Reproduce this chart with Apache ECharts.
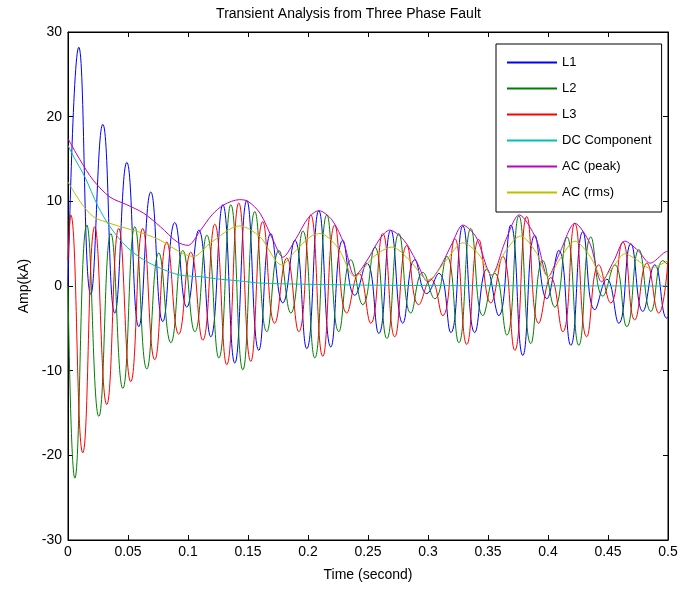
<!DOCTYPE html>
<html lang="en">
<head>
    <meta charset="UTF-8">
    <title>Transient Analysis from Three Phase Fault</title>
    <script type="text/javascript" src="https://cdn.jsdelivr.net/npm/echarts@6/dist/echarts.min.js"></script>
    <style>
        html, body { margin: 0; padding: 0; background: #fff; }
    </style>
</head>
<body>
<div id="main" style="width: 697px;height:591px;"></div>
<script>
    // values: [time (s), current (kA)], peaks and troughs of each phase
    var l1 = [[0,0],[0.009,28.2],[0.019,-1.0],[0.029,19.1],[0.039,-3.2],[0.049,14.6],[0.059,-4.8],[0.069,11.1],[0.079,-4.2],[0.089,7.5],
        [0.099,-2.5],[0.109,6.6],[0.119,-6.0],[0.129,9.6],[0.139,-9.1],[0.149,10.1],[0.159,-7.6],[0.169,6.2],[0.179,-2.0],[0.189,5.4],
        [0.199,-7.4],[0.209,8.9],[0.219,-7.2],[0.229,5.4],[0.239,-1.1],[0.249,2.7],[0.259,-5.6],[0.269,6.6],[0.279,-4.4],[0.289,3.1],
        [0.299,-0.9],[0.309,1.5],[0.319,-5.5],[0.329,7.1],[0.339,-5.5],[0.349,2.0],[0.359,-3.5],[0.369,7.2],[0.379,-8.2],[0.389,6.0],
        [0.399,-1.5],[0.409,4.2],[0.419,-7.0],[0.429,6.4],[0.439,-2.8],[0.449,0.8],[0.459,-4.4],[0.469,5.0],[0.479,-3.0],[0.489,2.5],
        [0.499,-3.8],[0.5,-3.7]];

    var l2 = [[0,0],[0.0057,-22.7],[0.0157,7.2],[0.0257,-15.4],[0.0357,6.2],[0.0457,-12.1],[0.0557,7.0],[0.0657,-9.8],[0.0757,3.9],[0.0857,-6.7],
        [0.0957,4.2],[0.1057,-5.4],[0.1157,6.0],[0.1257,-8.5],[0.1357,9.6],[0.1457,-9.9],[0.1557,8.8],[0.1657,-5.4],[0.1757,4.2],[0.1857,-3.2],
        [0.1957,6.5],[0.2057,-8.5],[0.2157,8.4],[0.2257,-5.4],[0.2357,3.1],[0.2457,-2.2],[0.2557,4.6],[0.2657,-6.2],[0.2757,6.2],[0.2857,-3.2],
        [0.2957,1.6],[0.3057,-1.5],[0.3157,3.5],[0.3257,-6.7],[0.3357,6.8],[0.3457,-3.5],[0.3557,1.5],[0.3657,-5.8],[0.3757,8.3],[0.3857,-6.8],
        [0.3957,3.0],[0.4057,-2.5],[0.4157,5.8],[0.4257,-7.0],[0.4357,5.8],[0.4457,-1.2],[0.4557,2.5],[0.4657,-4.8],[0.4757,4.3],[0.4857,-3.0],
        [0.4957,3.0],[0.5,2.5]];

    var l3 = [[0,3.0],[0.0023,8.4],[0.0123,-19.7],[0.0223,7.0],[0.0323,-14.0],[0.0423,6.8],[0.0523,-11.3],[0.0623,6.8],[0.0723,-8.7],[0.0823,5.2],
        [0.0923,-5.7],[0.1023,4.0],[0.1123,-6.4],[0.1223,7.3],[0.1323,-9.3],[0.1423,9.8],[0.1523,-8.9],[0.1623,7.6],[0.1723,-4.4],[0.1823,3.3],
        [0.1923,-5.4],[0.2023,8.4],[0.2123,-8.3],[0.2223,7.2],[0.2323,-3.2],[0.2423,1.5],[0.2523,-4.4],[0.2623,6.2],[0.2723,-6.0],[0.2823,4.8],
        [0.2923,-2.2],[0.3023,0.8],[0.3123,-3.5],[0.3223,5.6],[0.3323,-6.9],[0.3423,5.5],[0.3523,-2.0],[0.3623,3.5],[0.3723,-7.6],[0.3823,8.2],
        [0.3923,-4.4],[0.4023,1.0],[0.4123,-5.4],[0.4223,7.4],[0.4323,-6.0],[0.4423,2.5],[0.4523,-2.0],[0.4623,5.2],[0.4723,-4.0],[0.4823,2.7],
        [0.4923,-3.2],[0.5,3.0]];

    var dcComp = [[0,16.6],[0.005,15.2],[0.014,12.9],[0.025,9.4],[0.035,7.0],[0.049,4.6],[0.063,3.1],[0.077,2.1],[0.093,1.3],
        [0.11,1.1],[0.127,0.8],[0.143,0.6],[0.16,0.35],[0.2,0.2],[0.25,0.1],[0.3,0.05],[0.5,0]];

    var acPeak = [[0,17.4],[0.01,14.9],[0.021,12.5],[0.035,10.5],[0.049,9.6],[0.063,8.6],[0.077,7.0],[0.091,5.2],[0.1,4.8],
        [0.11,6.5],[0.12,8.4],[0.13,9.6],[0.143,10.2],[0.15,10.0],[0.16,8.6],[0.171,5.4],[0.179,3.4],[0.19,5.6],[0.2,8.0],
        [0.209,8.9],[0.22,7.8],[0.23,5.0],[0.239,1.2],[0.25,3.2],[0.26,5.6],[0.268,6.6],[0.28,5.4],[0.29,3.0],[0.3,0.5],
        [0.31,2.2],[0.32,5.0],[0.329,7.2],[0.34,5.8],[0.353,1.3],[0.365,5.5],[0.376,8.4],[0.39,5.6],[0.4,1.1],[0.41,4.0],
        [0.4225,7.4],[0.435,5.0],[0.4447,0.5],[0.455,3.0],[0.464,5.3],[0.475,4.2],[0.485,2.7],[0.4975,4.0],[0.5,4.1]];

    var acRms = [[0,12.3],[0.01,10.0],[0.021,8.2],[0.035,7.4],[0.049,6.8],[0.063,6.2],[0.077,5.4],[0.091,4.2],[0.1,3.6],
        [0.105,3.5],[0.118,5.0],[0.143,7.1],[0.16,5.8],[0.178,2.5],[0.19,4.2],[0.2017,5.8],[0.21,6.2],[0.225,4.5],[0.239,1.1],
        [0.255,3.5],[0.27,4.6],[0.285,3.0],[0.3,0.7],[0.315,3.0],[0.329,5.1],[0.342,3.8],[0.353,1.3],[0.365,4.2],[0.377,5.9],
        [0.39,4.0],[0.4,1.1],[0.41,3.2],[0.4225,5.3],[0.435,3.5],[0.446,0.9],[0.455,2.4],[0.464,3.8],[0.475,3.0],[0.485,2.1],[0.5,3.0]];

    var seriesNames = ['L1', 'L2', 'L3', 'DC Component', 'AC (peak)', 'AC (rms)'];
    var seriesData = [l1, l2, l3, dcComp, acPeak, acRms];
    var seriesColors = ['#0000ff', '#008000', '#ff0000', '#00bfbf', '#bf00bf', '#bfbf00'];
    var smoothness = [0.5, 0.5, 0.5, 0.3, 0.3, 0.3];

    var font = 'Liberation Sans, Arial, sans-serif';
    var myChart = echarts.init(document.getElementById('main'));

    var series = [];
    for (var i = 0; i < seriesNames.length; i++) {
        series.push({
            name: seriesNames[i],
            type: 'line',
            data: seriesData[i],
            symbol: 'none',
            smooth: smoothness[i],
            clip: true,
            silent: true,
            lineStyle: {color: seriesColors[i], width: 1},
            itemStyle: {color: seriesColors[i]}
        });
    }

    // matlab style box: ticks inside on all four sides
    function boxAxis(extra) {
        var ax = {
            type: 'value',
            axisLine: {onZero: false, lineStyle: {color: '#000'}},
            axisTick: {inside: true, length: 5, lineStyle: {color: '#000'}},
            splitLine: {show: false}
        };
        for (var k in extra) ax[k] = extra[k];
        return ax;
    }

    var option = {
        animation: false,
        backgroundColor: '#fff',
        title: {
            text: 'Transient Analysis from Three Phase Fault',
            left: 'center',
            top: 2,
            textStyle: {fontFamily: font, fontSize: 14, fontWeight: 'normal', color: '#000'}
        },
        legend: {
            data: seriesNames,
            orient: 'vertical',
            left: 496,
            top: 44,
            padding: [12, 10, 13, 10],
            itemWidth: 50,
            itemHeight: 14,
            itemGap: 13,
            borderColor: '#000',
            borderWidth: 1,
            backgroundColor: '#fff',
            itemStyle: {opacity: 0},
            textStyle: {fontFamily: font, fontSize: 13, color: '#000'}
        },
        grid: {
            left: 68, top: 32, width: 600, height: 508,
            show: true, borderColor: '#000', borderWidth: 1
        },
        xAxis: [
            boxAxis({
                min: 0, max: 0.5, interval: 0.05,
                name: 'Time (second)', nameLocation: 'middle', nameGap: 28,
                nameTextStyle: {fontFamily: font, fontSize: 14, color: '#000'},
                axisLabel: {fontFamily: font, fontSize: 14, color: '#000', margin: 5}
            }),
            boxAxis({min: 0, max: 0.5, interval: 0.05, position: 'top', axisLabel: {show: false}})
        ],
        yAxis: [
            boxAxis({
                min: -30, max: 30, interval: 10,
                name: 'Amp(kA)', nameLocation: 'middle', nameGap: 36,
                nameTextStyle: {fontFamily: font, fontSize: 14, color: '#000'},
                axisLabel: {fontFamily: font, fontSize: 14, color: '#000', margin: 6}
            }),
            boxAxis({min: -30, max: 30, interval: 10, position: 'right', axisLabel: {show: false}})
        ],
        series: series
    };

    myChart.setOption(option);
</script>
</body>
</html>
